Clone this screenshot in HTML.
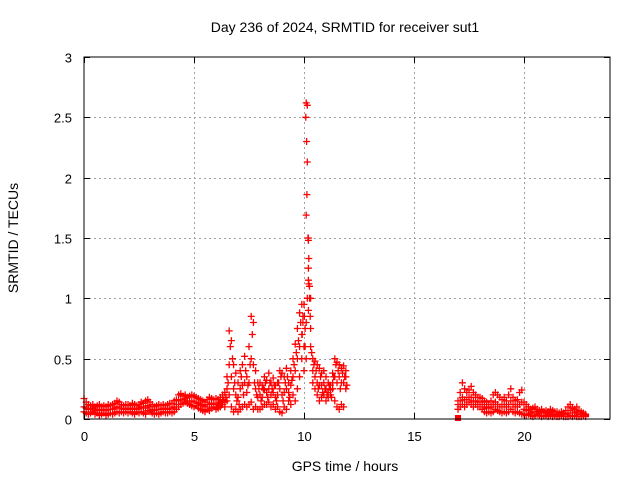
<!DOCTYPE html>
<html><head><meta charset="utf-8"><style>
html,body{margin:0;padding:0;background:#fff}
svg{display:block;font-family:"Liberation Sans",sans-serif}
</style></head><body>
<svg id="chart" width="640" height="480" viewBox="0 0 640 480">
<rect width="640" height="480" fill="#fff"/>
<text x="345" y="32" font-size="14" text-anchor="middle">Day 236 of 2024, SRMTID for receiver sut1</text>
<text transform="translate(18,238) rotate(-90)" font-size="14" text-anchor="middle">SRMTID / TECUs</text>
<text x="345" y="471" font-size="14" text-anchor="middle">GPS time / hours</text>
<g id="grid"></g>
<g id="ticks"></g>
<g id="marks"></g>
<rect x="84" y="57" width="526" height="362" fill="none" stroke="#000" stroke-width="1"/>
</svg>
<script>
const xTicks=[0,5,10,15,20];
const yTicks=[0,0.5,1,1.5,2,2.5,3];
const yTickLabels=["0","0.5","1","1.5","2","2.5","3"];
const hours1=[0.0,0.1,0.2,0.3,0.4,0.5,0.6,0.7,0.8,0.9,1.0,1.1,1.2,1.3,1.4,1.5,1.6,1.7,1.8,1.9,2.0,2.1,2.2,2.3,2.4,2.5,2.6,2.7,2.8,2.9,3.0,3.1,3.2,3.3,3.4,3.5,3.6,3.7,3.8,3.9,4.0,4.1,4.2,4.3,4.4,4.5,4.6,4.7,4.8,4.9,5.0,5.1,5.2,5.3,5.4,5.5,5.6,5.7,5.8,5.9,6.0,6.1,6.2,6.3,6.4,6.5,6.6,6.7,6.8,6.9,7.0,7.1,7.2,7.3,7.4,7.5,7.6,7.7,7.8,7.9,8.0,8.1,8.2,8.3,8.4,8.5,8.6,8.7,8.8,8.9,9.0,9.1,9.2,9.3,9.4,9.5,9.6,9.7,9.8,9.9,10.0,10.1,10.2,10.3,10.4,10.5,10.6,10.7,10.8,10.9,11.0,11.1,11.2,11.3,11.4,11.5,11.6,11.7,11.8,11.9];
const low1=[.06,.05,.04,.05,.06,.04,.05,.03,.04,.05,.03,.04,.05,.04,.05,.06,.05,.06,.05,.06,.05,.06,.05,.04,.06,.05,.06,.05,.04,.07,.06,.05,.04,.05,.04,.05,.06,.05,.05,.06,.05,.06,.08,.10,.12,.13,.14,.13,.12,.11,.10,.11,.09,.08,.07,.06,.08,.07,.09,.10,.08,.09,.10,.12,.10,.15,.20,.10,.06,.08,.06,.08,.10,.12,.10,.12,.14,.08,.10,.08,.08,.10,.12,.12,.14,.10,.12,.08,.10,.06,.05,.10,.08,.15,.12,.20,.15,.25,.35,.50,.40,.50,.90,.60,.30,.25,.20,.15,.18,.20,.15,.18,.20,.25,.15,.10,.08,.12,.10,.25];
const mid1=[.10,.09,.08,.08,.09,.07,.08,.07,.07,.08,.07,.08,.08,.08,.09,.10,.09,.09,.08,.09,.08,.08,.09,.08,.08,.09,.10,.09,.09,.11,.10,.08,.07,.08,.08,.08,.09,.08,.08,.09,.09,.10,.12,.15,.16,.16,.17,.15,.15,.15,.14,.14,.13,.12,.11,.10,.12,.12,.13,.13,.12,.12,.14,.15,.14,.25,.45,.35,.25,.20,.18,.25,.28,.30,.22,.30,.50,.45,.25,.18,.20,.18,.24,.22,.25,.20,.22,.18,.20,.25,.20,.22,.25,.22,.28,.35,.40,.50,.60,.70,.60,.80,1.25,.75,.40,.35,.30,.28,.28,.30,.25,.22,.24,.30,.35,.30,.35,.30,.30,.35];
const high1=[.17,.14,.12,.11,.12,.10,.11,.12,.10,.11,.10,.12,.11,.12,.13,.15,.14,.12,.11,.12,.12,.11,.13,.12,.11,.12,.14,.13,.15,.16,.14,.12,.10,.11,.12,.11,.12,.11,.12,.13,.13,.15,.16,.20,.21,.19,.20,.18,.19,.20,.19,.18,.17,.16,.15,.14,.16,.18,.17,.16,.17,.16,.18,.20,.22,.35,.73,.65,.45,.38,.30,.40,.45,.52,.35,.60,.85,.80,.40,.30,.30,.28,.35,.32,.38,.30,.34,.28,.30,.40,.38,.35,.42,.30,.40,.50,.62,.75,.88,.95,.95,2.62,1.50,1.00,.50,.48,.45,.42,.38,.40,.35,.30,.28,.38,.50,.47,.45,.42,.44,.40];
const hoursB=[6.05,6.15,6.25,6.35,6.45,6.55,6.65,6.75,6.85,6.95,7.05,7.15,7.25,7.35,7.45,7.55,7.65,7.75,7.85,7.95,8.05,8.15,8.25,8.35,8.45,8.55,8.65,8.75,8.85,8.95,9.05,9.15,9.25,9.35,9.45,9.55,9.65,9.75,9.85,9.95,10.05,10.15,10.25,10.35,10.45,10.55,10.65,10.75,10.85,10.95,11.05,11.15,11.25,11.35,11.45,11.55,11.65,11.75,11.85,11.95];
const midB=[.10,.13,.12,.16,.18,.30,.60,.50,.30,.15,.12,.35,.20,.40,.28,.45,.70,.30,.20,.25,.15,.25,.30,.18,.30,.25,.28,.15,.30,.35,.15,.30,.35,.18,.32,.45,.55,.65,.80,.85,.75,1.0,1.1,.55,.45,.40,.25,.35,.22,.25,.20,.28,.18,.35,.45,.40,.25,.38,.35,.28];
const hours2=[17.0,17.1,17.2,17.3,17.4,17.5,17.6,17.7,17.8,17.9,18.0,18.1,18.2,18.3,18.4,18.5,18.6,18.7,18.8,18.9,19.0,19.1,19.2,19.3,19.4,19.5,19.6,19.7,19.8,19.9,20.0,20.1,20.2,20.3,20.4,20.5,20.6,20.7,20.8,20.9,21.0,21.1,21.2,21.3,21.4,21.5,21.6,21.7,21.8,21.9,22.0,22.1,22.2,22.3,22.4,22.5,22.6,22.7,22.8];
const low2=[.08,.10,.12,.10,.12,.14,.12,.10,.12,.10,.10,.08,.06,.05,.06,.05,.06,.08,.07,.06,.05,.06,.05,.06,.08,.06,.05,.06,.05,.04,.04,.03,.04,.03,.02,.03,.04,.03,.02,.03,.03,.02,.03,.02,.03,.02,.02,.03,.02,.02,.02,.03,.02,.03,.02,.02,.02,.03,.02];
const mid2=[.12,.15,.18,.16,.16,.18,.18,.15,.15,.14,.14,.12,.10,.09,.09,.10,.12,.14,.12,.10,.10,.12,.10,.12,.15,.12,.10,.10,.12,.14,.08,.07,.07,.05,.06,.06,.06,.05,.05,.05,.05,.04,.05,.04,.04,.04,.04,.04,.04,.04,.05,.07,.05,.05,.06,.04,.04,.04,.03];
const high2=[.15,.22,.30,.25,.22,.24,.27,.22,.20,.18,.18,.17,.15,.14,.12,.15,.20,.22,.20,.18,.16,.18,.15,.20,.25,.18,.15,.16,.22,.24,.14,.12,.10,.08,.09,.10,.08,.07,.08,.06,.07,.06,.08,.07,.06,.06,.05,.06,.05,.07,.10,.12,.09,.08,.10,.07,.06,.05,.04];
const spikeHours=[10.15,10.08,10.12,10.15,10.13,10.10,10.18,10.20,10.22,10.20,10.25,10.22,10.28,10.30,10.02,10.05,9.95,9.92];
const spikeVals=[2.6,2.5,2.3,2.13,1.86,1.69,1.5,1.48,1.33,1.15,1.0,1.12,0.85,0.75,0.85,0.6,0.8,0.7];
const gapHours=[17.0];
const gapVals=[0];

const NS="http://www.w3.org/2000/svg";
const L=84,R=610,T=57,B=419,XMAX=(R-L)/22,YMAX=3;
function sx(h){return L+h/XMAX*(R-L);}
function sy(v){return B-v/YMAX*(B-T);}
const grid=document.getElementById('grid'),ticks=document.getElementById('ticks'),marks=document.getElementById('marks');
function ln(g,x1,y1,x2,y2,st,dash){const e=document.createElementNS(NS,'line');e.setAttribute('x1',x1);e.setAttribute('y1',y1);e.setAttribute('x2',x2);e.setAttribute('y2',y2);e.setAttribute('stroke',st);if(dash)e.setAttribute('stroke-dasharray',dash);g.appendChild(e);return e;}
xTicks.forEach(t=>{
  const x=Math.round(sx(t))+0.5;
  if(t>0){const g=ln(grid,x,T,x,B,'#a0a0a0','2,3');
  
  }
  ln(ticks,x,B,x,B-6,'#000');ln(ticks,x,T,x,T+6,'#000');
  const tx=document.createElementNS(NS,'text');tx.setAttribute('x',x);tx.setAttribute('y',B+22);tx.setAttribute('font-size','13');tx.setAttribute('text-anchor','middle');tx.textContent=t;
  
  
  ticks.appendChild(tx);
});
yTicks.forEach((t,i)=>{
  const y=Math.round(sy(t))+0.5;
  if(t>0&&t<YMAX){const g=ln(grid,L,y,R,y,'#a0a0a0','2,3');
  
  }
  ln(ticks,L,y,L+6,y,'#000');ln(ticks,R,y,R-6,y,'#000');
  const tx=document.createElementNS(NS,'text');tx.setAttribute('x',L-12);tx.setAttribute('y',y+5);tx.setAttribute('font-size','13');tx.setAttribute('text-anchor','end');tx.textContent=yTickLabels[i];
  
  
  ticks.appendChild(tx);
});
let d='';
function addPts(hs,vs){hs.forEach((h,i)=>{const x=sx(h),y=sy(vs[i]);d+='M'+(x-3.5).toFixed(1)+' '+y.toFixed(1)+'h7M'+x.toFixed(1)+' '+(y-3.5).toFixed(1)+'v7';});}
addPts(hours1,low1);addPts(hours1,mid1);addPts(hours1,high1);
addPts(hoursB,midB);
addPts(hours2,low2);addPts(hours2,mid2);addPts(hours2,high2);
addPts(spikeHours,spikeVals);
const p=document.createElementNS(NS,'path');p.setAttribute('d',d);p.setAttribute('stroke','#f00');p.setAttribute('stroke-width','1.3');p.setAttribute('fill','none');


marks.appendChild(p);
gapHours.forEach((h,i)=>{const r=document.createElementNS(NS,'rect');r.setAttribute('x',sx(h)-3);r.setAttribute('y',sy(gapVals[i])-4);r.setAttribute('width',6);r.setAttribute('height',6);r.setAttribute('fill','#f00');


marks.appendChild(r);});
</script>
</body></html>
